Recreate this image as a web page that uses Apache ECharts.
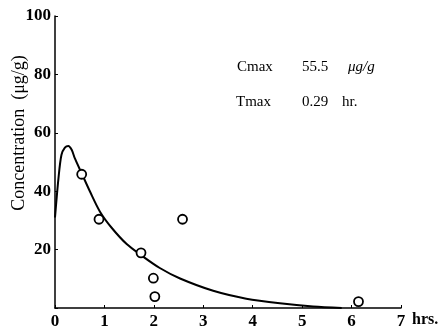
<!DOCTYPE html>
<html>
<head>
<meta charset="utf-8">
<script src="https://cdn.jsdelivr.net/npm/echarts@6/dist/echarts.min.js"></script>
<style>
  html, body { margin: 0; padding: 0; background: #fff; }
  #chart { width: 442px; height: 332px; }
</style>
</head>
<body>
<div id="chart"></div>
<script>
// measured concentrations (hrs, µg/g)
var obsTime = [0.54, 0.89, 1.74, 1.99, 2.02, 2.58, 6.14];
var obsConc = [45.8, 30.4, 18.9, 10.2, 3.9, 30.4, 2.2];

// fitted curve
var fitTime = [0, 0.07, 0.13, 0.20, 0.27, 0.34, 0.40, 0.54, 0.71, 0.91, 1.15, 1.45, 1.75, 2.12, 2.53, 3.2, 3.87, 4.55, 5.22, 5.8];
var fitConc = [31, 44.4, 52.4, 54.9, 55.5, 54.1, 51.3, 46.1, 39.8, 33.0, 27.4, 21.9, 18.0, 13.7, 10.1, 5.9, 3.2, 1.6, 0.5, 0];

var xTicks = [0, 1, 2, 3, 4, 5, 6, 7];
var yTicks = [20, 40, 60, 80, 100];

var serif = '"Liberation Serif", "DejaVu Serif", serif';

var chart = echarts.init(document.getElementById('chart'));

var option = {
  animation: false,
  backgroundColor: '#fff',
  grid: { left: 55, right: 41, top: 16, bottom: 24, containLabel: false },
  xAxis: {
    type: 'value',
    min: 0,
    max: 7,
    interval: 1,
    axisLine: { lineStyle: { color: '#000', width: 1.5 } },
    axisTick: { show: true, inside: true, length: 3, lineStyle: { color: '#000', width: 1 } },
    axisLabel: {
      margin: 5,
      color: '#000',
      fontFamily: serif,
      fontWeight: 'bold',
      fontSize: 17,
      formatter: function (v) { return xTicks.indexOf(v) >= 0 ? String(v) : ''; }
    },
    splitLine: { show: false }
  },
  yAxis: {
    type: 'value',
    min: 0,
    max: 100,
    interval: 20,
    axisLine: { show: true, lineStyle: { color: '#000', width: 1.5 } },
    axisTick: { show: true, inside: true, length: 3, lineStyle: { color: '#000', width: 1 } },
    axisLabel: {
      margin: 4,
      color: '#000',
      fontFamily: serif,
      fontWeight: 'bold',
      fontSize: 17,
      formatter: function (v) { return yTicks.indexOf(v) >= 0 ? String(v) : ''; }
    },
    splitLine: { show: false }
  },
  graphic: [
    { // y轴标题
      type: 'text', x: 19, y: 133, rotation: Math.PI / 2,
      style: { text: 'Concentration  (μg/g)', fill: '#000', font: '18px ' + serif, align: 'center', verticalAlign: 'middle' }
    },
    { type: 'text', x: 412, y: 320, style: { text: 'hrs.', fill: '#000', font: 'bold 16px ' + serif, align: 'left', verticalAlign: 'middle' } },
    { type: 'text', x: 237, y: 67, style: { text: 'Cmax', fill: '#000', font: '15px ' + serif, verticalAlign: 'middle' } },
    { type: 'text', x: 302, y: 67, style: { text: '55.5', fill: '#000', font: '15px ' + serif, verticalAlign: 'middle' } },
    { type: 'text', x: 348, y: 67, style: { text: 'μg/g', fill: '#000', font: 'italic 15px ' + serif, verticalAlign: 'middle' } },
    { type: 'text', x: 236, y: 102, style: { text: 'Tmax', fill: '#000', font: '15px ' + serif, verticalAlign: 'middle' } },
    { type: 'text', x: 302, y: 102, style: { text: '0.29', fill: '#000', font: '15px ' + serif, verticalAlign: 'middle' } },
    { type: 'text', x: 342, y: 102, style: { text: 'hr.', fill: '#000', font: '15px ' + serif, verticalAlign: 'middle' } }
  ],
  series: [
    {
      type: 'line',
      data: fitTime.map(function (t, i) { return [t, fitConc[i]]; }),
      smooth: 0.3,
      showSymbol: false,
      lineStyle: { color: '#000', width: 2 },
      z: 2
    },
    {
      type: 'scatter',
      data: obsTime.map(function (t, i) { return [t, obsConc[i]]; }),
      symbol: 'circle',
      symbolSize: 9,
      itemStyle: { color: '#fff', borderColor: '#000', borderWidth: 1.8, opacity: 1 },
      z: 3
    }
  ]
};

chart.setOption(option);
</script>
</body>
</html>
